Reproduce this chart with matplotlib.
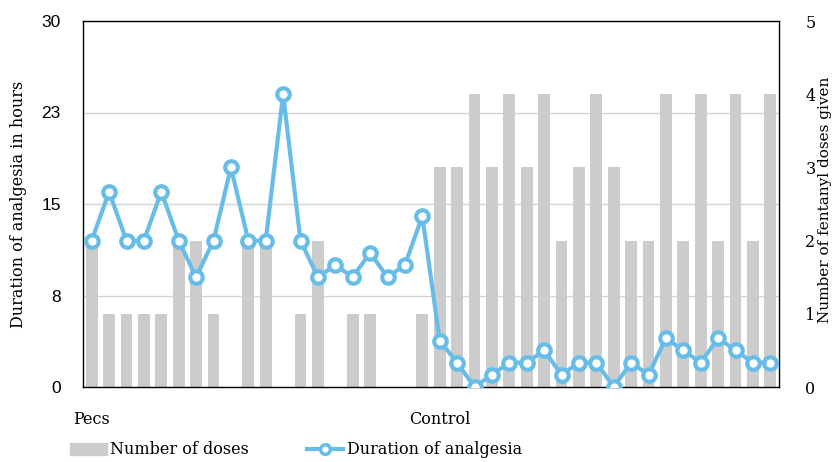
import numpy as np
import matplotlib.pyplot as plt
from matplotlib.lines import Line2D
from matplotlib.patches import Patch

# --- Data ---
# 40 patients: first 20 in the Pecs group, last 20 in the Control group
duration_hours = [12, 16, 12, 12, 16, 12, 9, 12, 18, 12,
                  12, 24, 12, 9, 10, 9, 11, 9, 10, 14,
                  3.8, 2, 0, 1, 2, 2, 3, 1, 2, 2,
                  0, 2, 1, 4, 3, 2, 4, 3, 2, 2]
num_doses = [2, 1, 1, 1, 1, 2, 2, 1, 0, 2,
             2, 0, 1, 2, 0, 1, 1, 0, 0, 1,
             3, 3, 4, 3, 4, 3, 4, 2, 3, 4,
             3, 2, 2, 4, 2, 4, 2, 4, 2, 4]
group_labels = {0: "Pecs", 20: "Control"}
hour_ticks = [0, 7.5, 15, 22.5, 30]
hour_tick_labels = ["0", "8", "15", "23", "30"]
dose_ticks = [0, 1, 2, 3, 4, 5]

plt.rcParams['font.family'] = ['DejaVu Serif']
FS = 11.5
BLUE = '#68BDE8'
GREY = '#CCCCCC'

fig = plt.figure(figsize=(8.34, 4.62), dpi=100)
ax = fig.add_axes([83 / 834, 75 / 462, 696 / 834, 366 / 462])

x = np.arange(len(duration_hours))
scale = 30 / 5  # doses axis (0-5) mapped onto hours axis (0-30)

ax.bar(x, np.array(num_doses) * scale, width=0.67, color=GREY, zorder=2)
ax.plot(x, duration_hours, color=BLUE, lw=3, marker='o', ms=9,
        mfc='white', mec=BLUE, mew=3, zorder=3)

ax.set_xlim(-0.5, len(x) - 0.5)
ax.set_ylim(0, 30)
ax.set_yticks(hour_ticks)
ax.set_yticklabels(hour_tick_labels, family='Liberation Sans', fontsize=12.5)
ax.set_xticks(list(group_labels.keys()))
ax.set_xticklabels(list(group_labels.values()), fontsize=FS)
ax.tick_params(axis='both', length=0)
ax.tick_params(axis='x', pad=17)
ax.tick_params(axis='y', pad=16)
ax.grid(axis='y', color='#D4D4D4', lw=1)
ax.set_axisbelow(True)
for s in ax.spines.values():
    s.set_color('black')
    s.set_linewidth(1)
ax.set_ylabel("Duration of analgesia in hours", fontsize=FS)
ax.yaxis.set_label_coords(-0.08, 0.5)

sec = ax.secondary_yaxis('right', functions=(lambda h: h / scale, lambda d: d * scale))
sec.set_yticks(dose_ticks)
sec.tick_params(length=0, labelsize=FS, pad=19)
sec.spines['right'].set_visible(False)
fig.text(825 / 834, 1 - 200 / 462, "Number of fentanyl doses given",
         rotation=90, ha='center', va='center', fontsize=11)

handles = [Patch(color=GREY),
           Line2D([], [], color=BLUE, lw=3, marker='o', ms=7,
                  mfc='white', mec=BLUE, mew=2.5)]
fig.legend(handles, ["Number of doses", "Duration of analgesia"],
           loc='center left', bbox_to_anchor=(56 / 834, 1 - 450 / 462),
           ncol=2, frameon=False, fontsize=FS, handlelength=2.3,
           handletextpad=0.2, columnspacing=3.6)

plt.savefig('out.png', dpi=100)
